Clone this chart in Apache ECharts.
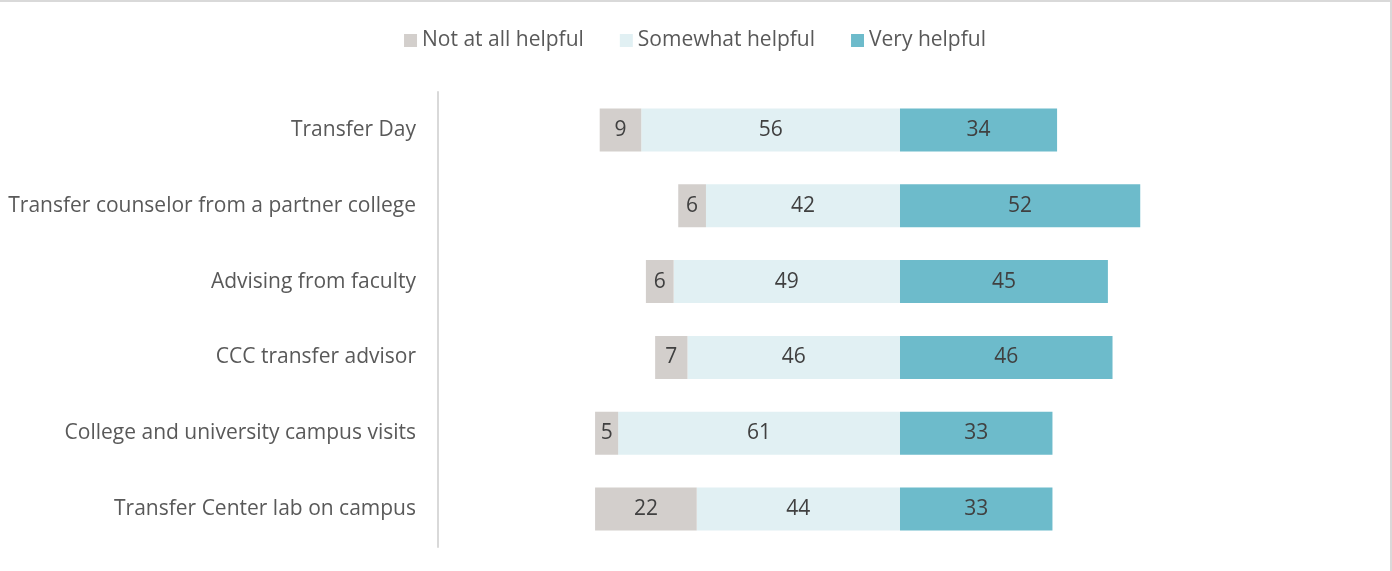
<!DOCTYPE html>
<html>
<head>
<meta charset="utf-8">
<script src="https://cdn.jsdelivr.net/npm/echarts@6/dist/echarts.min.js"></script>
<style>
  html, body { margin: 0; padding: 0; background: #fff; }
  #chart { width: 1392px; height: 571px; box-sizing: border-box; border-top: 2px solid #d9d9d9; border-right: 2px solid #d9d9d9; }
</style>
</head>
<body>
<div id="chart"></div>
<script>
// Survey items, top to bottom
const categories = [
  'Transfer Day',
  'Transfer counselor from a partner college',
  'Advising from faculty',
  'CCC transfer advisor',
  'College and university campus visits',
  'Transfer Center lab on campus'
];
// Percent of respondents per rating
const notAtAll = [9, 6, 6, 7, 5, 22];
const somewhat = [56, 42, 49, 46, 61, 44];
const very = [34, 52, 45, 46, 33, 33];

const FONT = '"Open Sans", Lato, sans-serif';
const labelStyle = {
  show: true,
  position: 'inside',
  color: '#404040',
  fontSize: 21,
  fontFamily: FONT,
  formatter: p => Math.abs(p.value)
};

const chart = echarts.init(document.getElementById('chart'));
chart.setOption({
  animation: false,
  legend: {
    top: 23,
    left: 'center',
    data: ['Not at all helpful', 'Somewhat helpful', 'Very helpful'],
    itemWidth: 13,
    itemHeight: 13,
    itemGap: 36,
    icon: 'rect',
    textStyle: { color: '#595959', fontSize: 21, fontFamily: FONT }
  },
  grid: { left: 438, right: 28, top: 90, bottom: 24, containLabel: false },
  xAxis: {
    type: 'value',
    min: -100,
    max: 100,
    show: false
  },
  yAxis: {
    type: 'category',
    data: categories,
    inverse: true,
    axisLine: { show: true, onZero: false, lineStyle: { color: '#d9d9d9', width: 2 } },
    axisTick: { show: false },
    axisLabel: { color: '#595959', fontSize: 21, fontFamily: FONT, margin: 22 }
  },
  series: [
    {
      name: 'Somewhat helpful',
      type: 'bar',
      stack: 'rating',
      barWidth: 43,
      data: somewhat.map(v => -v),
      itemStyle: { color: '#e1f0f3' },
      label: labelStyle
    },
    {
      name: 'Not at all helpful',
      type: 'bar',
      stack: 'rating',
      barWidth: 43,
      data: notAtAll.map(v => -v),
      itemStyle: { color: '#d3cfcc' },
      label: labelStyle
    },
    {
      name: 'Very helpful',
      type: 'bar',
      stack: 'rating',
      barWidth: 43,
      data: very,
      itemStyle: { color: '#6dbbcb' },
      label: labelStyle
    }
  ]
});
</script>
</body>
</html>
